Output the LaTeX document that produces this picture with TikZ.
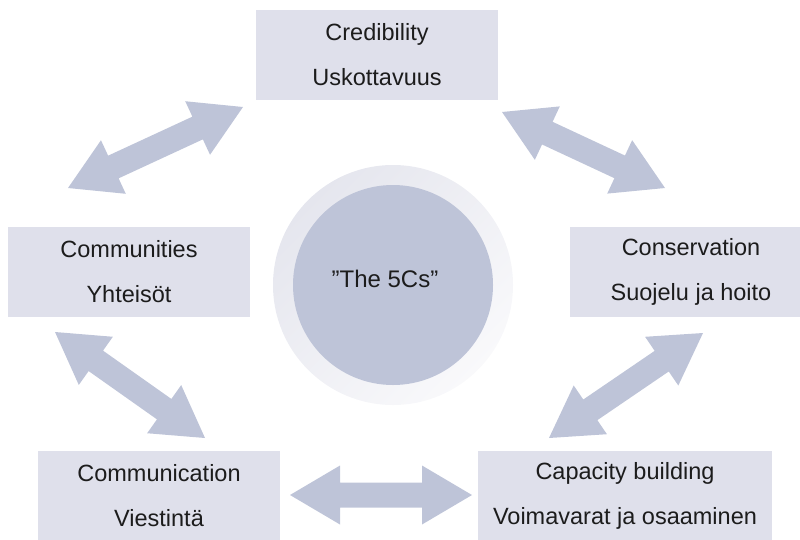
\documentclass[tikz,border=0pt]{standalone}
\usepackage{fontspec}
\setmainfont{Liberation Sans}
\usetikzlibrary{calc}
\definecolor{boxfill}{HTML}{DFE0EB}
\definecolor{arrowfill}{HTML}{BEC4D8}
\definecolor{corefill}{HTML}{BEC4D8}
\definecolor{ringA}{HTML}{E5E6EE}
\definecolor{ringB}{HTML}{F9F9FB}
\definecolor{textcol}{HTML}{1C1C1C}
\newcommand\dblarrow[2]{%
  \fill[arrowfill] (#1)
    -- ($(#1)!50pt!(#2)!29.5pt!90:(#2)$)
    -- ($(#1)!50pt!(#2)!12.5pt!90:(#2)$)
    -- ($(#2)!50pt!(#1)!12.5pt!-90:(#1)$)
    -- ($(#2)!50pt!(#1)!29.5pt!-90:(#1)$)
    -- (#2)
    -- ($(#2)!50pt!(#1)!29.5pt!90:(#1)$)
    -- ($(#2)!50pt!(#1)!12.5pt!90:(#1)$)
    -- ($(#1)!50pt!(#2)!12.5pt!-90:(#2)$)
    -- ($(#1)!50pt!(#2)!29.5pt!-90:(#2)$)
    -- cycle;}
\begin{document}
\begin{tikzpicture}[x=1pt,y=-1pt,
  box/.style={rectangle, fill=boxfill, inner sep=0pt, minimum height=90pt,
    align=center, font=\fontsize{23.5}{45}\selectfont, text=textcol},
  ringstyle/.style={circle, inner sep=0pt, minimum size=240pt,
    top color=ringA, bottom color=ringB, shading angle=45},
  corestyle/.style={circle, inner sep=0pt, minimum size=200pt, fill=corefill},
  centertext/.style={inner sep=0pt, font=\fontsize{24}{28}\selectfont, text=textcol}]
\clip (0,0) rectangle (800,539);
\useasboundingbox (0,0) rectangle (800,539);

% centre
\node[ringstyle] (ring) at (393,285) {};
\node[corestyle] (core) at (393,285) {};
\node[centertext] (label) at (385,279) {”The 5Cs”};

% boxes
\node[box, minimum width=242pt] (cred) at (377,55) {Credibility\\Uskottavuus};
\node[box, minimum width=242pt] (comm) at (129,272) {Communities\\Yhteisöt};
\node[box, minimum width=242pt] (cons) at (691,272) {Conservation\\Suojelu ja hoito};
\node[box, minimum width=242pt] (commu) at (159,496) {Communication\\Viestintä};
\node[box, minimum width=294pt] (cap) at (625,496) {Capacity building\\Voimavarat ja osaaminen};

% arrow ends
\coordinate (a1s) at (68,188);
\coordinate (a1e) at (243,107);
\coordinate (a2s) at (502,112);
\coordinate (a2e) at (665,188);
\coordinate (a3s) at (55,332);
\coordinate (a3e) at (205,438);
\coordinate (a4s) at (549,438);
\coordinate (a4e) at (703,333);
\coordinate (a5s) at (290,495);
\coordinate (a5e) at (472,495);

\dblarrow{a1s}{a1e}
\dblarrow{a2s}{a2e}
\dblarrow{a3s}{a3e}
\dblarrow{a4s}{a4e}
\dblarrow{a5s}{a5e}
\end{tikzpicture}
\end{document}
